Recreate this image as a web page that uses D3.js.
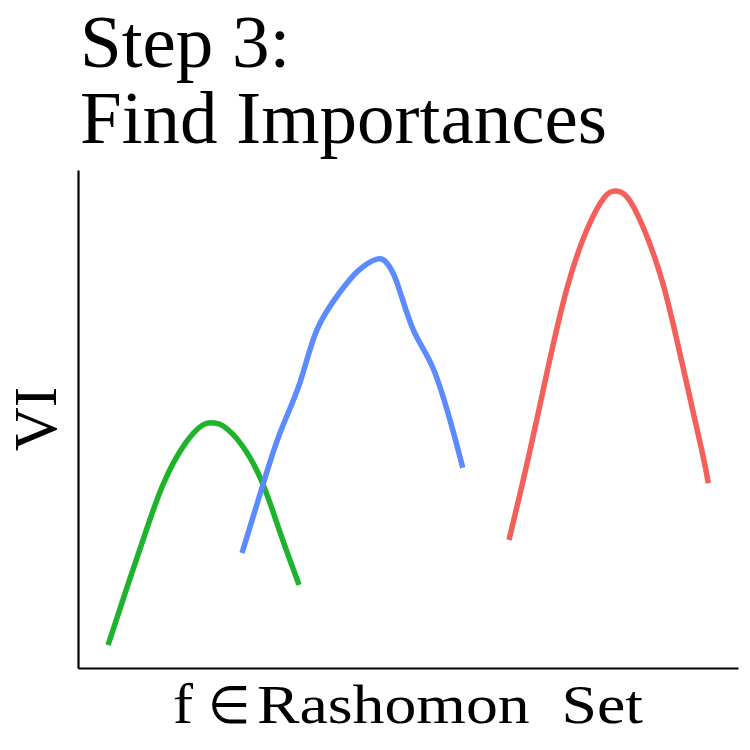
<!DOCTYPE html>
<html><head><meta charset="utf-8">
<script src="https://cdn.jsdelivr.net/npm/d3@7"></script>
<style>html,body{margin:0;padding:0;background:#fff;}</style>
</head><body>
<script>
const titleLines = ["Step 3:", "Find Importances"];
const xLabelParts = ["f", "\u2208", "Rashomon\u00a0 Set"];
const yLabel = "VI";
const seriesNames = ["green", "blue", "red"];
const seriesColors = ["#1db32b", "#5b8bff", "#f45f5a"];
const greenX = [0.455, 0.73, 1.02, 1.29, 1.61, 1.89, 2.05, 2.20, 2.48, 2.79, 3.06, 3.35];
const greenY = [0.46, 1.57, 2.71, 3.69, 4.48, 4.88, 4.92, 4.86, 4.48, 3.73, 2.73, 1.67];
const blueX = [2.485, 2.79, 3.06, 3.36, 3.62, 3.97, 4.24, 4.53, 4.68, 4.83, 5.08, 5.38, 5.67, 5.83];
const blueY = [2.31, 3.63, 4.72, 5.72, 6.79, 7.55, 7.97, 8.21, 8.13, 7.75, 6.79, 6.02, 4.82, 4.02];
const redX = [6.53, 6.83, 7.12, 7.41, 7.71, 7.98, 8.15, 8.32, 8.56, 8.86, 9.15, 9.45, 9.55];
const redY = [2.57, 4.26, 6.02, 7.63, 8.80, 9.46, 9.58, 9.46, 8.86, 7.73, 6.14, 4.38, 3.71];

const W = 750, H = 750;
const margin = {left: 78, right: 12, top: 170, bottom: 82};
const svg = d3.select("body").append("svg").attr("width", W).attr("height", H);
const x = d3.scaleLinear().domain([0, 10]).range([margin.left, W - margin.right]);
const y = d3.scaleLinear().domain([0, 10]).range([H - margin.bottom, margin.top]);
const font = "'Liberation Serif', 'Times New Roman', serif";

// title
svg.append("g").selectAll("text").data(titleLines).join("text")
  .attr("x", 80).attr("y", (d, i) => 67 + i * 76)
  .attr("font-family", font).attr("font-size", 75).attr("fill", "#000")
  .text(d => d);

// axes (lines only)
const xAxis = d3.axisBottom(x).tickValues([]).tickSizeOuter(0);
const yAxis = d3.axisLeft(y).tickValues([]).tickSizeOuter(0);
svg.append("g").attr("transform", `translate(0,${y(0)})`).call(xAxis)
  .select(".domain").attr("stroke", "#000").attr("stroke-width", 2.2);
svg.append("g").attr("transform", `translate(${x(0)},0)`).call(yAxis)
  .select(".domain").attr("stroke", "#000").attr("stroke-width", 2.2);

// x label (three pieces, stretched horizontally like the reference)
const xl = svg.append("g").attr("font-family", font).attr("fill", "#000");
xl.append("text").attr("x", 173).attr("y", 723).attr("font-size", 56)
  .attr("textLength", 20).attr("lengthAdjust", "spacingAndGlyphs").text(xLabelParts[0]);
xl.append("text").attr("x", 208).attr("y", 723).attr("font-size", 52)
  .attr("textLength", 42).attr("lengthAdjust", "spacingAndGlyphs").text(xLabelParts[1]);
xl.append("text").attr("x", 257).attr("y", 723).attr("font-size", 54)
  .style("white-space", "pre")
  .attr("textLength", 386).attr("lengthAdjust", "spacingAndGlyphs").text(xLabelParts[2]);

// y label
svg.append("text").attr("transform", `translate(56,${(y(0) + y(10)) / 2}) rotate(-90)`)
  .attr("text-anchor", "middle").attr("font-family", font).attr("font-size", 61)
  .text(yLabel);

// curves
const series = [
  {xs: greenX, ys: greenY},
  {xs: blueX, ys: blueY},
  {xs: redX, ys: redY}
];
const line = d3.line().x(d => x(d[0])).y(d => y(d[1])).curve(d3.curveNatural);
svg.append("g").selectAll("path").data(series).join("path")
  .attr("d", d => line(d.xs.map((v, i) => [v, d.ys[i]])))
  .attr("fill", "none")
  .attr("stroke", (d, i) => seriesColors[i])
  .attr("stroke-width", 5.5);
</script>
</body></html>
